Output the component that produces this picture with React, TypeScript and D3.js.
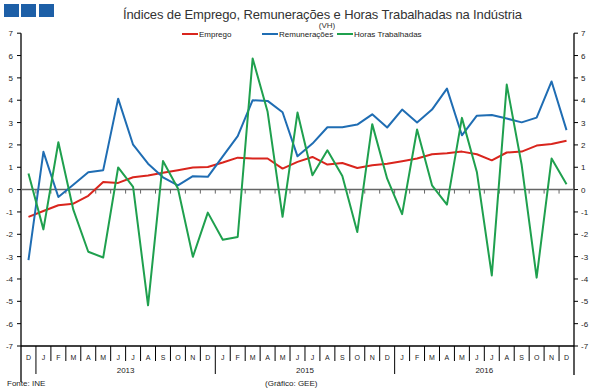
import React from "react";
import * as d3 from "d3";

// monthly categories, Dec 2012 to Dec 2016
const months = [
  "D",
  "J", "F", "M", "A", "M", "J", "J", "A", "S", "O", "N", "D",
  "J", "F", "M", "A", "M", "J", "J", "A", "S", "O", "N", "D",
  "J", "F", "M", "A", "M", "J", "J", "A", "S", "O", "N", "D",
];
const years = [
  { label: "2013", start: 1, end: 12 },
  { label: "2015", start: 13, end: 24 },
  { label: "2016", start: 25, end: 36 },
];

const emprego = [
  -1.22, -0.96, -0.7, -0.63, -0.28, 0.34, 0.3, 0.55, 0.63, 0.75, 0.87, 0.99, 1.01,
  1.21, 1.43, 1.39, 1.39, 0.94, 1.24, 1.46, 1.12, 1.19, 0.97, 1.09, 1.16,
  1.27, 1.39, 1.58, 1.63, 1.7, 1.58, 1.31, 1.66, 1.7, 1.97, 2.04, 2.19,
];
const remuneracoes = [
  -3.16, 1.69, -0.33, 0.22, 0.78, 0.87, 4.07, 2.01, 1.16, 0.55, 0.19, 0.6, 0.57,
  1.49, 2.39, 4.0, 3.97, 3.46, 1.49, 2.06, 2.79, 2.79, 2.91, 3.37, 2.78,
  3.58, 3.0, 3.58, 4.52, 2.43, 3.31, 3.34, 3.18, 3.01, 3.22, 4.84, 2.66,
];
const horas = [
  0.72, -1.78, 2.12, -0.9, -2.78, -3.04, 0.99, 0.12, -5.18, 1.28, 0.05, -3.01, -1.03,
  -2.24, -2.12, 5.87, 3.48, -1.22, 3.45, 0.64, 1.76, 0.61, -1.9, 2.93, 0.49,
  -1.1, 2.69, 0.19, -0.67, 3.21, 0.79, -3.84, 4.7, 1.1, -3.94, 1.39, 0.24,
];

const yTicks = [-7, -6, -5, -4, -3, -2, -1, 0, 1, 2, 3, 4, 5, 6, 7];

const series = [
  { name: "Emprego", values: emprego, color: "#d9251d" },
  { name: "Remunerações", values: remuneracoes, color: "#1f6db3" },
  { name: "Horas Trabalhadas", values: horas, color: "#1fa04e" },
];

const W = 596;
const H = 391;
const left = 21;
const right = 574;
const font = "'Liberation Sans', Arial, sans-serif";

export default function App() {
  const idx = months.map((_, i) => i);
  const x = d3.scaleBand<number>().domain(idx).range([left, right]);
  const y = d3.scaleLinear().domain([-7, 7]).range([346, 33.2]);
  const cx = (i: number) => (x(i) as number) + x.bandwidth() / 2;
  const bottom = y(-7);
  const zero = y(0);

  const line = d3
    .line<number>()
    .x((_, i) => cx(i))
    .y((d) => y(d));

  const legendPos = [182, 262, 337];

  return (
    <svg
      width={W}
      height={H}
      style={{ position: "absolute", left: 0, top: 0, background: "#fff" }}
      fontFamily={font}
    >
      {/* logo */}
      {[4, 21, 39].map((lx) => (
        <rect key={lx} x={lx} y={4} width={15} height={13} fill="#1d5fa7" />
      ))}

      <text x={123} y={18.5} fontSize={13} fill="#333" textLength={399} lengthAdjust="spacing">
        Índices de Emprego, Remunerações e Horas Trabalhadas na Indústria
      </text>
      <text x={327} y={28} fontSize={8} fill="#333" textAnchor="middle">
        (VH)
      </text>

      {/* legend */}
      {series.map((s, k) => (
        <g key={s.name}>
          <line x1={legendPos[k]} x2={legendPos[k] + 16} y1={34} y2={34} stroke={s.color} strokeWidth={2} />
          <text x={legendPos[k] + 17} y={37} fontSize={8} fill="#222">
            {s.name}
          </text>
        </g>
      ))}

      {/* y axes */}
      <line x1={left} x2={left} y1={y(7)} y2={382} stroke="#000" strokeWidth={1.3} />
      <line x1={right} x2={right} y1={y(7)} y2={375} stroke="#000" strokeWidth={1.3} />
      {yTicks.map((t) => (
        <g key={t}>
          <line x1={left - 4} x2={left} y1={y(t)} y2={y(t)} stroke="#000" />
          <text x={13} y={y(t) + 3} fontSize={8} textAnchor="end" fill="#222">
            {t}
          </text>
          <line x1={right} x2={right + 4} y1={y(t)} y2={y(t)} stroke="#000" />
          <text x={581} y={y(t) + 3} fontSize={8} fill="#222">
            {t}
          </text>
        </g>
      ))}

      {/* zero line with category ticks */}
      <line x1={left} x2={right} y1={zero} y2={zero} stroke="#666" strokeWidth={1.5} />
      {idx.slice(1).map((i) => (
        <line key={i} x1={x(i)} x2={x(i)} y1={zero} y2={zero + 4} stroke="#666" />
      ))}

      {/* bottom category axis */}
      <line x1={left} x2={right} y1={bottom} y2={bottom} stroke="#000" strokeWidth={1.3} />
      {idx.slice(1).map((i) => {
        const isYear = months[i] === "J" && months[i - 1] === "D";
        return (
          <line
            key={i}
            x1={x(i)}
            x2={x(i)}
            y1={bottom}
            y2={isYear ? 374 : 361}
            stroke="#000"
          />
        );
      })}
      {months.map((m, i) => (
        <text key={i} x={cx(i)} y={359.5} fontSize={7} textAnchor="middle" fill="#222">
          {m}
        </text>
      ))}
      {years.map((yr) => (
        <text
          key={yr.label}
          x={((x(yr.start) as number) + (x(yr.end) as number) + x.bandwidth()) / 2}
          y={373}
          fontSize={8}
          textAnchor="middle"
          fill="#222"
        >
          {yr.label}
        </text>
      ))}

      {/* series */}
      {series.map((s) => (
        <path
          key={s.name}
          d={line(s.values) ?? ""}
          fill="none"
          stroke={s.color}
          strokeWidth={2}
          strokeLinejoin="round"
        />
      ))}

      <text x={7} y={386} fontSize={8} fill="#222">
        Fonte: INE
      </text>
      <text x={265} y={386} fontSize={8} fill="#222">
        (Gráfico: GEE)
      </text>
    </svg>
  );
}
